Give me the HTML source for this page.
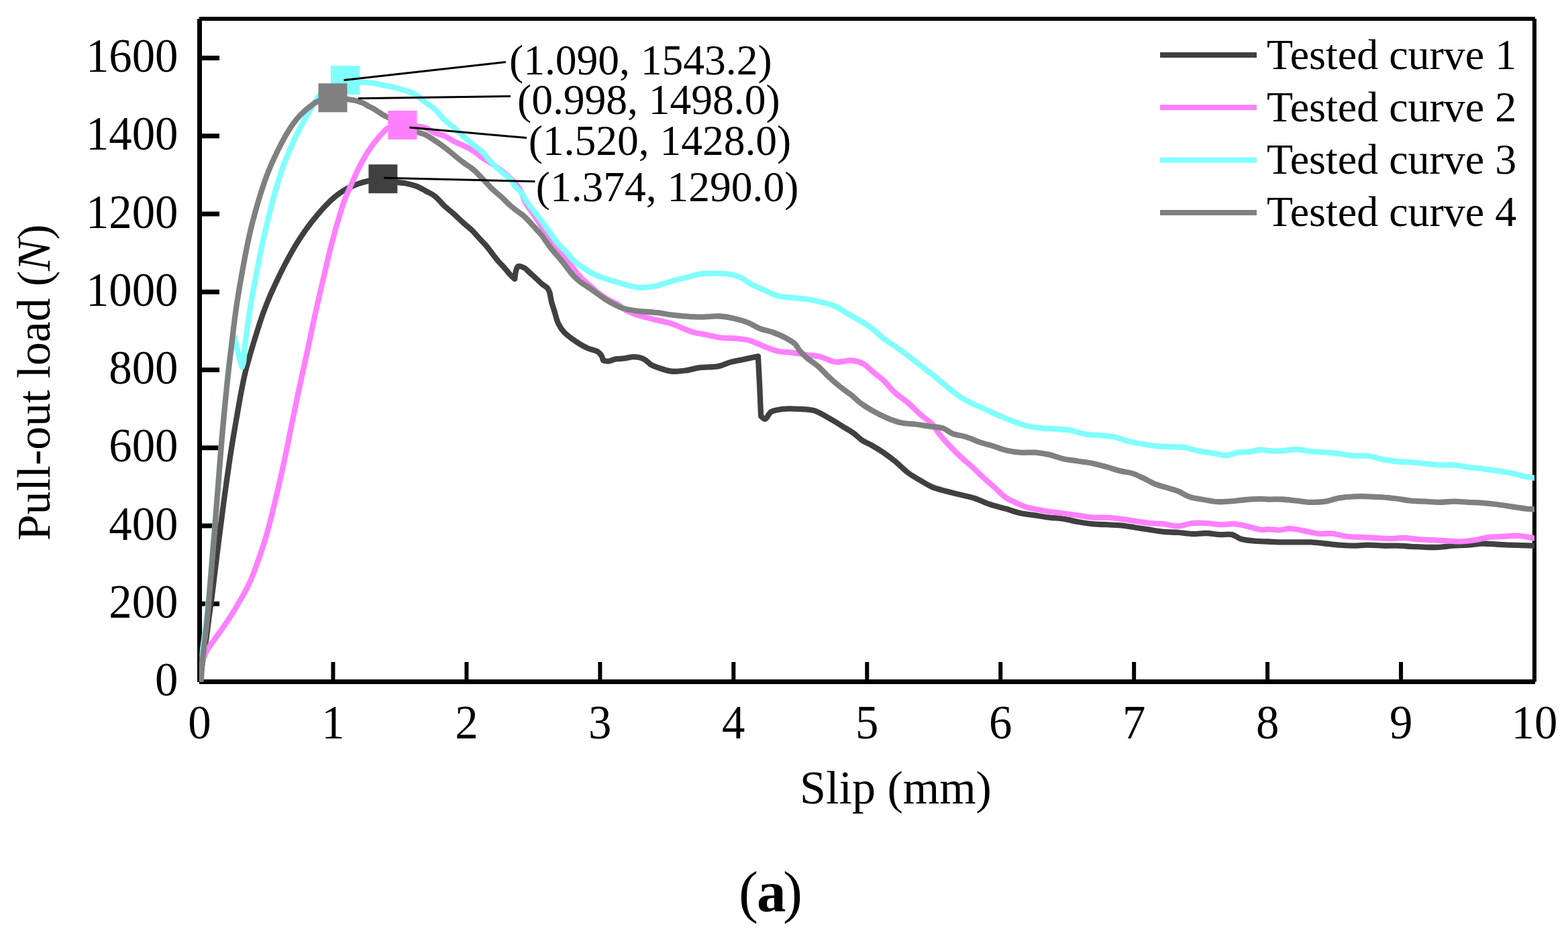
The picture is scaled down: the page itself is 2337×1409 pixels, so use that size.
<!DOCTYPE html>
<html><head><meta charset="utf-8"><title>Pull-out load vs slip</title>
<style>html,body{margin:0;padding:0;background:#fff;overflow:hidden}svg{display:block}text{font-family:'Liberation Serif',serif;fill:#000}</style></head>
<body>
<svg width="2337" height="1409" viewBox="0 0 2337 1409">
<rect width="2337" height="1409" fill="#fff"/>
<defs><clipPath id="pa"><rect x="297.5" y="28" width="1989.5" height="988.5"/></clipPath></defs>
<path d="M301 1016.50H327 M301 900.25H327 M301 784.00H327 M301 667.75H327 M301 551.50H327 M301 435.25H327 M301 319.00H327 M301 202.75H327 M301 86.50H327" stroke="#000" stroke-width="7" fill="none"/>
<path d="M297.50 1013V987 M496.45 1013V987 M695.40 1013V987 M894.35 1013V987 M1093.30 1013V987 M1292.25 1013V987 M1491.20 1013V987 M1690.15 1013V987 M1889.10 1013V987 M2088.05 1013V987 M2287.00 1013V987" stroke="#000" stroke-width="6" fill="none"/>
<path d="M297 1016.5H2288" stroke="#000" stroke-width="7" fill="none"/>
<path d="M297.5 1017V28" stroke="#000" stroke-width="7" fill="none"/>
<path d="M297 28H2288" stroke="#000" stroke-width="6" fill="none"/>
<path d="M2287 28V1016.5" stroke="#000" stroke-width="6" fill="none"/>
<g clip-path="url(#pa)">
<path d="M297.5 1016.5C298.0 1013.3 298.4 1010.3 298.9 1006.9C299.4 1003.2 300.0 999.2 300.6 995.2C301.2 990.8 302.0 986.2 302.7 981.7C303.4 977.1 304.2 972.4 305.0 967.8C305.7 963.1 306.5 958.5 307.2 953.9C307.8 949.5 308.4 945.2 309.0 940.9C309.5 936.7 309.9 932.9 310.5 928.7C311.0 924.2 311.6 919.9 312.3 914.9C313.1 909.0 314.1 902.4 315.0 895.6C316.0 887.9 317.1 879.4 318.1 871.0C319.2 862.4 320.2 853.4 321.3 844.5C322.4 835.2 323.6 825.8 324.8 816.2C326.0 806.3 327.4 795.9 328.7 785.6C330.0 775.1 331.4 764.3 332.8 753.7C334.2 743.2 335.6 732.6 337.1 722.3C338.4 712.5 339.8 702.7 341.2 693.3C342.5 684.3 343.8 675.7 345.2 667.1C346.5 658.8 347.9 650.7 349.3 642.5C350.7 634.2 352.1 625.8 353.6 617.5C355.1 609.0 356.6 600.1 358.1 591.8C359.6 583.9 361.1 575.9 362.6 568.6C364.0 562.1 365.3 556.2 366.8 550.3C368.2 544.6 369.7 539.6 371.3 533.9C373.0 527.8 374.9 521.4 376.9 514.6C379.2 507.1 381.7 498.8 384.3 490.7C386.9 482.4 389.7 473.6 392.8 465.3C395.8 457.1 398.9 449.2 402.3 441.3C405.8 433.2 409.5 425.3 413.4 417.1C417.5 408.6 421.8 399.8 426.3 391.2C430.9 382.5 435.8 373.6 440.8 365.3C445.7 357.3 450.9 349.5 456.1 342.1C461.1 335.2 466.3 328.6 471.4 322.5C476.1 316.7 480.8 311.2 485.6 306.3C489.9 301.8 494.2 297.6 498.5 294.0C502.4 290.6 506.4 287.8 510.4 285.2C514.3 282.8 518.2 280.7 522.2 278.9C526.2 277.0 530.3 275.4 534.4 273.9C538.4 272.6 542.4 271.4 546.4 270.4C550.4 269.4 554.3 268.7 558.3 268.0C562.3 267.3 566.5 266.4 570.5 266.4C574.4 266.4 578.3 267.1 582.0 268.0C585.6 268.9 588.5 270.7 592.3 271.6C596.6 272.7 601.8 272.7 606.5 273.7C611.2 274.7 615.8 275.8 620.3 277.5C625.0 279.3 629.6 282.0 634.2 284.5C638.9 287.1 643.9 289.2 648.4 292.7C653.4 296.6 657.8 302.8 662.6 307.3C667.2 311.6 672.1 315.1 676.8 319.3C681.6 323.6 686.4 328.5 691.0 332.6C695.1 336.3 699.0 339.2 702.8 342.8C706.6 346.5 710.2 350.8 713.8 354.7C717.3 358.5 720.8 362.0 724.1 365.8C727.4 369.6 730.3 373.7 733.4 377.7C736.5 381.7 739.5 385.8 742.8 389.6C746.1 393.4 749.9 397.1 753.0 400.7C755.8 403.9 758.2 407.3 760.7 410.0C762.9 412.3 765.0 414.0 767.1 416.0C767.7 412.3 767.9 408.2 768.8 404.9C769.6 402.1 770.2 398.4 771.8 397.3C772.9 396.5 774.5 397.0 776.0 397.3C777.9 397.7 780.0 398.6 782.0 399.8C784.3 401.2 786.3 403.6 788.8 405.8C791.9 408.6 795.6 412.1 799.0 415.2C802.4 418.3 806.1 421.9 809.2 424.5C811.6 426.5 814.3 427.5 816.0 429.6C817.6 431.5 818.3 434.1 819.4 436.4C820.3 440.9 820.8 445.4 822.0 450.0C823.2 455.0 825.1 460.0 826.7 465.2C828.4 470.7 829.6 477.1 832.0 482.2C834.3 486.9 837.0 491.2 840.5 495.0C844.1 499.0 848.9 502.4 853.3 505.6C857.5 508.7 862.0 511.7 866.1 514.1C869.7 516.2 872.8 517.8 876.7 519.5C881.2 521.4 888.1 522.4 891.6 524.8C894.1 526.6 895.6 529.0 896.9 531.2C898.0 533.2 898.4 535.4 899.1 537.5C901.6 537.9 903.8 538.8 906.5 538.6C909.8 538.4 913.4 536.1 917.2 535.4C921.2 534.7 925.5 534.9 929.9 534.4C934.7 533.9 939.8 532.0 944.8 532.2C949.8 532.4 955.3 533.3 959.7 535.4C963.8 537.3 966.7 541.7 970.4 543.9C973.8 545.9 976.9 546.8 981.0 548.2C986.4 550.0 993.4 552.8 1000.0 553.5C1006.8 554.3 1014.2 553.4 1021.3 552.5C1028.4 551.6 1035.0 549.3 1042.6 548.2C1051.2 547.0 1062.0 547.8 1070.3 546.1C1077.4 544.7 1082.8 541.5 1089.4 539.7C1096.3 537.9 1103.8 536.9 1110.7 535.4C1117.3 534.0 1123.5 532.6 1129.9 531.2C1130.6 544.7 1131.3 557.5 1132.0 571.6C1132.7 587.1 1133.4 604.3 1134.1 620.6C1136.2 622.0 1138.4 625.1 1140.5 624.8C1143.3 624.4 1145.2 616.7 1149.0 614.2C1153.4 611.4 1159.8 610.7 1166.1 609.9C1173.7 609.0 1183.5 609.5 1191.6 609.9C1199.0 610.3 1206.0 610.1 1212.9 612.1C1220.2 614.2 1227.2 618.8 1234.2 622.7C1241.4 626.6 1248.8 631.4 1255.5 635.5C1261.5 639.2 1267.4 642.4 1272.5 646.1C1277.2 649.5 1280.7 653.7 1285.3 656.8C1289.9 659.8 1295.0 661.5 1300.0 664.4C1305.5 667.5 1311.4 671.2 1317.0 675.0C1322.8 679.0 1328.3 683.1 1334.1 687.8C1340.4 692.9 1346.8 700.0 1353.2 704.8C1358.9 709.1 1364.4 712.0 1370.3 715.5C1376.4 719.1 1382.7 723.3 1389.4 726.1C1396.2 729.0 1403.6 730.5 1410.7 732.5C1417.8 734.4 1424.9 736.0 1432.0 737.8C1439.1 739.6 1446.3 740.9 1453.3 743.2C1460.5 745.5 1467.1 749.2 1474.6 751.7C1482.6 754.4 1491.9 756.5 1500.0 758.8C1507.4 761.0 1514.1 763.6 1521.3 765.2C1528.3 766.8 1535.5 767.3 1542.6 768.4C1549.7 769.5 1556.8 770.7 1563.9 771.6C1571.0 772.5 1578.1 772.6 1585.2 773.7C1592.3 774.8 1599.3 776.7 1606.4 778.0C1613.5 779.2 1620.6 780.5 1627.7 781.2C1634.8 781.9 1641.9 781.9 1649.0 782.2C1656.1 782.6 1663.2 782.6 1670.3 783.3C1677.4 784.0 1684.5 785.4 1691.6 786.5C1698.7 787.6 1705.8 788.6 1712.9 789.7C1720.0 790.8 1727.1 792.2 1734.2 792.9C1741.3 793.6 1748.4 793.4 1755.5 793.9C1762.6 794.4 1769.6 795.9 1776.7 796.1C1783.8 796.3 1790.9 794.8 1798.0 795.0C1805.1 795.2 1812.6 796.8 1819.3 797.1C1825.3 797.4 1831.2 795.9 1836.3 797.1C1841.0 798.2 1844.2 801.9 1849.1 803.5C1855.2 805.4 1863.4 806.0 1870.4 806.7C1877.1 807.3 1883.3 807.2 1890.0 807.5C1897.0 807.8 1904.2 808.3 1911.3 808.4C1918.4 808.5 1925.5 808.4 1932.6 808.4C1939.7 808.4 1946.8 808.1 1953.9 808.4C1961.0 808.7 1968.1 809.8 1975.2 810.5C1982.3 811.2 1989.3 812.2 1996.4 812.7C2003.5 813.2 2010.6 813.7 2017.7 813.7C2024.8 813.7 2031.9 812.7 2039.0 812.7C2046.1 812.7 2053.2 813.5 2060.3 813.7C2067.4 813.9 2074.5 813.5 2081.6 813.7C2088.7 813.9 2095.8 814.4 2102.9 814.8C2110.0 815.1 2117.1 815.6 2124.2 815.8C2131.3 816.0 2138.4 816.1 2145.5 815.8C2152.6 815.5 2159.6 814.2 2166.7 813.7C2173.8 813.2 2180.9 813.2 2188.0 812.7C2195.1 812.2 2202.2 810.7 2209.3 810.5C2216.4 810.3 2223.5 811.2 2230.6 811.6C2237.7 812.0 2243.8 812.4 2251.9 812.7C2262.8 813.1 2277.3 813.4 2290.0 813.7" fill="none" stroke="#404040" stroke-width="8.3" stroke-linejoin="round" stroke-linecap="butt"/>
<path d="M297.5 1016.5C298.1 1011.6 298.6 1006.5 299.2 1001.8C299.9 997.5 300.5 993.2 301.4 989.2C302.2 985.8 303.0 982.5 304.1 979.5C305.1 976.6 306.3 974.1 307.7 971.4C309.2 968.5 311.0 965.8 313.1 962.7C315.5 959.0 318.5 955.1 321.4 951.0C324.8 946.4 328.5 941.4 332.1 936.2C335.9 930.8 339.8 924.9 343.5 919.1C347.2 913.3 350.8 907.2 354.3 901.4C357.6 895.8 360.9 890.2 363.9 884.8C366.6 879.7 369.2 874.8 371.5 869.8C373.8 865.0 375.7 860.2 377.6 855.5C379.4 850.9 380.9 846.3 382.6 841.7C384.2 837.3 385.8 833.1 387.4 828.4C389.1 823.3 390.9 818.1 392.8 812.3C394.9 805.5 397.1 797.9 399.2 790.3C401.4 782.3 403.6 773.6 405.7 765.3C407.7 757.2 409.6 749.3 411.5 741.3C413.4 733.3 415.2 725.5 417.0 717.4C418.9 709.2 420.8 700.8 422.6 692.4C424.4 684.0 426.2 675.5 427.9 667.1C429.6 658.8 431.2 650.7 432.8 642.5C434.5 634.2 436.1 625.9 437.9 617.5C439.7 608.8 441.5 599.9 443.4 591.2C445.2 582.5 447.1 573.8 448.9 565.3C450.7 557.1 452.4 549.3 454.2 541.3C455.9 533.1 457.6 525.2 459.5 516.7C461.4 507.5 463.4 497.8 465.5 488.0C467.8 477.4 470.2 466.2 472.7 455.3C475.1 444.3 477.8 433.1 480.3 422.4C482.7 412.0 485.0 401.8 487.3 392.0C489.5 382.8 491.6 373.9 493.8 365.3C495.9 357.3 498.0 349.5 500.0 342.1C502.0 335.3 503.9 328.7 505.8 322.5C507.5 316.9 509.1 311.4 510.7 306.5C512.1 302.3 513.5 298.4 514.9 294.6C516.3 291.2 517.7 288.3 519.1 284.9C520.7 281.4 522.3 277.9 524.0 274.1C525.8 269.9 527.7 265.4 529.8 260.9C531.9 256.3 534.1 251.5 536.5 246.8C539.0 242.1 541.6 237.4 544.3 232.8C547.0 228.3 549.9 223.9 552.8 219.7C555.6 215.7 558.5 211.8 561.5 208.2C564.2 204.9 567.0 201.7 569.9 198.8C572.6 196.0 574.3 193.0 578.0 191.0C583.2 188.2 592.2 186.8 599.4 186.3C606.6 185.8 615.1 187.3 621.4 188.2C626.3 188.9 629.9 189.2 634.2 190.7C638.9 192.4 643.6 196.5 648.4 198.5C653.0 200.4 658.0 200.7 662.6 202.7C667.5 204.8 672.0 208.4 676.8 210.9C681.5 213.3 686.4 215.1 691.0 217.3C695.5 219.5 699.8 221.4 704.2 224.1C709.0 227.1 713.6 231.4 718.4 234.8C723.1 238.1 727.9 240.8 732.6 244.0C737.4 247.2 742.2 250.3 746.8 254.0C751.6 257.8 756.4 261.9 761.0 266.5C765.9 271.5 771.5 277.0 775.2 283.0C778.7 288.7 779.4 295.2 782.7 301.3C786.4 308.2 792.3 315.0 797.0 322.0C801.8 329.2 807.5 338.9 811.1 343.9C813.1 346.6 813.9 347.4 816.0 350.0C819.7 354.7 825.9 363.3 831.0 369.9C836.1 376.5 841.7 383.3 846.7 389.7C851.3 395.7 855.8 402.1 860.0 407.1C863.5 411.2 866.6 414.7 870.0 418.0C873.2 421.1 876.7 423.6 880.0 426.5C883.3 429.4 886.4 432.6 889.8 435.4C893.2 438.2 897.1 440.9 900.5 443.1C903.5 445.0 905.9 446.6 909.0 448.2C912.4 450.0 916.6 451.4 920.0 453.5C923.4 455.5 926.1 458.4 929.4 460.5C932.7 462.6 936.4 464.4 940.0 466.0C943.5 467.6 947.2 468.9 950.7 470.0C953.9 471.0 956.4 471.6 960.0 472.5C964.8 473.8 970.7 475.4 976.8 476.9C983.9 478.6 993.8 480.3 1000.0 482.2C1004.3 483.5 1006.5 484.8 1010.6 486.5C1016.5 488.9 1024.7 492.9 1031.9 495.0C1038.9 497.1 1046.1 497.8 1053.2 499.2C1060.3 500.6 1067.4 502.6 1074.5 503.5C1081.6 504.4 1088.7 503.8 1095.8 504.5C1102.9 505.2 1110.1 505.8 1117.1 507.7C1124.3 509.7 1131.3 513.6 1138.4 516.3C1145.5 519.0 1152.5 522.1 1159.7 523.7C1166.7 525.2 1173.9 524.9 1181.0 525.8C1188.1 526.7 1195.2 527.9 1202.3 529.0C1209.4 530.1 1216.5 530.5 1223.5 532.2C1230.7 534.0 1237.3 538.7 1244.8 539.7C1252.8 540.7 1262.8 536.7 1270.4 537.5C1276.7 538.2 1282.4 540.1 1287.4 542.9C1292.2 545.6 1295.5 549.9 1300.0 553.7C1305.2 558.1 1311.5 562.4 1317.0 567.5C1322.9 573.0 1328.0 580.1 1334.1 585.6C1340.1 591.1 1346.9 595.1 1353.2 600.5C1359.7 606.1 1366.1 613.1 1372.4 618.6C1378.1 623.6 1384.7 627.4 1389.4 632.5C1393.7 637.1 1396.1 642.4 1400.1 647.4C1404.5 653.0 1409.8 658.8 1415.0 664.4C1420.4 670.2 1426.2 676.0 1432.0 681.4C1437.6 686.6 1443.4 691.2 1449.0 696.3C1454.7 701.5 1460.4 707.3 1466.1 712.5C1471.7 717.6 1477.4 722.5 1483.1 727.5C1488.7 732.5 1494.5 738.8 1500.0 742.5C1504.4 745.5 1508.3 746.9 1512.8 749.0C1517.5 751.2 1522.0 753.7 1527.7 755.5C1535.0 757.8 1544.2 759.4 1553.2 761.0C1563.2 762.8 1575.6 764.2 1585.2 765.5C1593.0 766.6 1599.3 767.4 1606.4 768.4C1613.5 769.4 1620.6 771.1 1627.7 771.6C1634.8 772.1 1641.9 771.3 1649.0 771.6C1656.1 771.9 1663.2 772.8 1670.3 773.7C1677.4 774.6 1684.5 775.8 1691.6 776.9C1698.7 778.0 1705.8 779.4 1712.9 780.1C1720.0 780.8 1727.1 780.5 1734.2 781.2C1741.3 781.9 1748.4 784.6 1755.5 784.4C1762.6 784.2 1769.6 780.8 1776.7 780.1C1783.8 779.4 1790.9 779.8 1798.0 780.1C1805.1 780.4 1812.4 782.0 1819.3 782.2C1825.9 782.4 1832.1 780.8 1838.5 781.2C1844.9 781.6 1851.1 783.0 1857.6 784.4C1864.5 785.8 1872.9 789.1 1878.9 789.7C1883.2 790.1 1885.9 789.2 1890.0 789.2C1895.1 789.2 1901.5 790.5 1907.0 790.3C1912.1 790.1 1916.5 788.2 1921.9 788.2C1928.4 788.2 1936.1 790.2 1943.2 791.4C1950.3 792.6 1957.4 794.9 1964.5 795.6C1971.6 796.3 1978.7 794.9 1985.8 795.6C1992.9 796.3 2000.0 799.0 2007.1 799.9C2014.2 800.8 2021.3 800.6 2028.4 800.9C2035.5 801.3 2042.6 801.6 2049.7 802.0C2056.8 802.4 2063.8 803.1 2070.9 803.1C2078.0 803.1 2085.1 801.8 2092.2 802.0C2099.3 802.2 2106.4 803.6 2113.5 804.1C2120.6 804.6 2127.7 804.8 2134.8 805.2C2141.9 805.6 2149.0 805.9 2156.1 806.3C2163.2 806.6 2170.3 807.5 2177.4 807.3C2184.5 807.1 2191.6 806.3 2198.7 805.2C2205.8 804.1 2212.9 801.8 2220.0 800.9C2227.0 800.0 2234.1 800.2 2241.2 799.9C2248.3 799.5 2255.0 798.4 2262.5 798.8C2271.1 799.2 2280.8 801.7 2290.0 803.1" fill="none" stroke="#ff80ff" stroke-width="8.3" stroke-linejoin="round" stroke-linecap="butt"/>
<path d="M297.5 1016.5C298.1 1009.5 298.6 1002.5 299.2 995.6C299.8 988.8 300.5 982.0 301.2 975.4C301.9 969.0 302.7 962.8 303.5 956.6C304.3 950.5 305.1 944.6 305.9 938.4C306.7 932.1 307.6 925.7 308.3 919.0C309.1 911.8 309.8 904.2 310.5 896.4C311.3 888.2 312.0 879.6 312.7 871.0C313.5 862.3 314.2 853.4 315.0 844.5C315.8 835.2 316.6 825.8 317.4 816.2C318.3 806.3 319.1 795.9 320.0 785.6C320.8 775.1 321.7 764.3 322.6 753.7C323.4 743.2 324.3 732.6 325.1 722.3C325.9 712.5 326.6 702.7 327.4 693.3C328.1 684.3 328.8 675.7 329.5 667.1C330.2 658.8 330.9 650.7 331.6 642.5C332.3 634.2 333.1 625.9 333.9 617.5C334.7 608.8 335.5 599.9 336.4 591.2C337.3 582.5 338.1 573.7 339.0 565.3C339.9 557.4 340.7 549.6 341.6 542.5C342.5 536.0 343.3 529.9 344.1 524.2C344.9 519.2 345.5 514.0 346.5 510.0C347.2 506.9 348.2 504.7 349.0 502.0C350.5 508.0 352.0 514.3 353.4 520.0C354.7 525.1 355.8 529.7 357.0 534.4C358.2 538.8 359.4 543.1 360.6 547.5C361.4 545.0 362.4 543.1 363.0 540.0C364.0 535.0 363.8 527.2 364.5 520.0C365.4 511.4 366.9 500.9 368.2 491.7C369.4 482.7 370.6 473.9 371.9 465.3C373.2 457.1 374.5 449.3 375.9 441.3C377.4 433.2 378.9 425.3 380.5 417.1C382.1 408.7 383.7 399.8 385.4 391.2C387.1 382.5 388.7 373.8 390.5 365.3C392.3 357.1 394.1 349.3 396.0 341.3C397.9 333.2 399.9 325.3 401.9 317.1C404.1 308.6 406.3 299.8 408.7 291.2C411.1 282.5 413.5 273.7 416.2 265.3C418.7 257.3 421.4 249.5 424.2 242.2C426.8 235.3 429.6 228.7 432.3 222.5C434.8 216.7 437.3 211.2 439.9 205.8C442.3 200.7 444.7 195.9 447.2 191.0C449.7 186.2 452.3 181.5 454.9 176.8C457.5 172.1 460.2 167.5 462.9 162.8C465.6 158.2 468.1 153.2 471.0 149.0C473.8 145.0 476.3 141.3 480.0 138.0C484.1 134.2 489.5 130.8 495.0 128.0C500.8 125.0 507.3 121.9 514.0 121.0C521.0 120.0 531.0 122.4 536.2 122.7C539.0 122.8 540.0 122.8 542.6 122.9C546.4 123.1 552.1 123.1 556.8 123.8C561.6 124.5 566.3 126.0 571.0 127.0C575.7 128.0 580.5 128.7 585.2 129.8C590.0 130.9 594.7 132.3 599.4 133.7C604.1 135.1 609.9 136.4 613.6 138.0C616.2 139.1 617.5 140.0 620.0 141.7C623.9 144.3 629.5 149.1 634.2 152.7C638.9 156.3 643.9 159.3 648.4 163.4C653.4 167.9 657.7 174.3 662.6 179.0C667.2 183.4 672.1 186.6 676.8 190.7C681.6 194.9 686.3 199.7 691.0 203.8C695.4 207.7 699.7 211.2 704.2 214.9C708.8 218.7 713.9 221.9 718.4 226.3C723.4 231.1 727.7 237.6 732.6 242.6C737.2 247.3 742.1 251.2 746.8 255.4C751.5 259.6 757.3 263.6 761.0 267.8C764.0 271.2 765.5 275.0 768.0 278.0C770.3 280.7 772.8 282.0 775.2 285.0C778.6 289.2 781.5 295.6 785.5 301.3C790.2 308.0 796.5 315.5 801.9 322.6C807.2 329.7 812.2 336.8 817.5 343.9C822.8 351.0 828.1 358.9 833.5 365.2C838.3 370.8 845.0 376.3 848.0 380.0C849.6 382.0 849.6 383.1 851.3 384.9C854.3 388.2 860.7 393.1 865.5 396.6C870.1 400.0 874.9 403.1 879.7 405.8C884.4 408.4 889.1 410.7 893.9 412.6C898.6 414.5 903.4 415.7 908.1 417.2C912.8 418.7 917.6 420.1 922.3 421.5C927.0 422.9 931.7 424.5 936.5 425.7C941.2 426.9 946.0 428.2 950.7 428.6C955.4 429.0 960.1 428.6 964.8 428.2C969.5 427.8 973.9 427.3 979.0 426.1C985.4 424.6 992.9 421.4 1000.0 419.4C1007.0 417.4 1014.2 415.9 1021.3 414.1C1028.4 412.3 1035.4 409.8 1042.6 408.7C1049.6 407.7 1056.8 407.7 1063.9 407.7C1071.0 407.7 1078.5 407.7 1085.2 408.7C1091.2 409.6 1096.7 410.7 1102.2 413.0C1108.1 415.5 1113.2 420.4 1119.2 423.6C1125.3 426.8 1132.0 429.3 1138.4 432.2C1144.8 435.0 1150.7 438.8 1157.5 440.7C1164.8 442.8 1173.4 443.0 1181.0 443.9C1188.3 444.8 1195.2 444.9 1202.3 446.0C1209.4 447.1 1216.5 448.5 1223.5 450.3C1230.6 452.1 1237.9 453.6 1244.8 456.6C1252.1 459.8 1259.2 465.4 1266.1 469.4C1272.6 473.2 1279.4 476.5 1285.3 480.1C1290.6 483.4 1295.0 486.2 1300.0 490.0C1305.6 494.3 1311.2 500.2 1317.0 504.7C1322.6 509.0 1328.3 512.3 1334.1 516.4C1340.3 520.8 1346.9 525.5 1353.2 530.3C1359.6 535.1 1366.0 540.2 1372.4 545.2C1378.8 550.2 1385.2 555.0 1391.5 560.1C1397.9 565.3 1404.3 570.8 1410.7 576.0C1417.1 581.1 1423.3 586.6 1429.9 590.9C1436.1 595.0 1442.4 598.3 1449.0 601.6C1455.8 605.0 1463.2 608.0 1470.3 611.2C1477.4 614.4 1484.5 617.7 1491.6 620.7C1498.7 623.7 1506.0 626.8 1512.9 629.3C1519.4 631.6 1525.3 633.8 1531.9 635.3C1538.7 636.9 1546.1 637.8 1553.2 638.5C1560.3 639.2 1567.4 639.1 1574.5 639.6C1581.6 640.1 1588.7 640.5 1595.8 641.7C1602.9 643.0 1610.0 645.8 1617.1 647.1C1624.2 648.3 1631.3 648.5 1638.4 649.2C1645.5 649.9 1652.7 649.9 1659.7 651.3C1666.8 652.7 1673.8 655.9 1680.9 657.7C1688.0 659.5 1695.1 660.7 1702.2 662.0C1709.3 663.2 1716.4 664.5 1723.5 665.2C1730.6 665.9 1737.7 665.9 1744.8 666.2C1751.9 666.6 1759.1 666.3 1766.1 667.3C1773.3 668.4 1780.3 671.2 1787.4 672.6C1794.5 674.0 1801.8 674.7 1808.7 675.8C1815.2 676.8 1821.6 679.2 1827.8 679.0C1833.7 678.8 1839.2 675.6 1844.9 674.7C1850.5 673.8 1856.3 674.4 1861.9 673.7C1867.6 673.0 1873.8 670.6 1878.9 670.5C1883.0 670.4 1885.7 671.9 1890.0 672.2C1895.9 672.7 1904.2 672.6 1911.3 672.2C1918.4 671.8 1925.5 669.8 1932.6 670.0C1939.7 670.2 1946.8 672.5 1953.9 673.2C1961.0 673.9 1968.1 673.8 1975.2 674.3C1982.3 674.8 1989.3 675.5 1996.4 676.4C2003.5 677.3 2010.6 679.1 2017.7 679.6C2024.8 680.1 2032.0 678.7 2039.0 679.6C2046.2 680.5 2053.2 683.5 2060.3 684.9C2067.4 686.3 2074.5 687.4 2081.6 688.1C2088.7 688.8 2095.8 688.7 2102.9 689.2C2110.0 689.7 2117.1 690.6 2124.2 691.3C2131.3 692.0 2138.4 693.1 2145.5 693.4C2152.6 693.7 2159.6 692.9 2166.7 693.4C2173.8 693.9 2180.9 695.7 2188.0 696.6C2195.1 697.5 2202.2 697.9 2209.3 698.8C2216.4 699.7 2223.5 700.9 2230.6 702.0C2237.7 703.1 2244.8 703.8 2251.9 705.2C2259.0 706.6 2266.5 709.2 2273.2 710.5C2279.1 711.7 2284.4 712.2 2290.0 713.0" fill="none" stroke="#80ffff" stroke-width="8.3" stroke-linejoin="round" stroke-linecap="butt"/>
<path d="M299.3 1020.0C299.6 1016.2 299.8 1012.7 300.1 1008.5C300.4 1003.4 300.9 997.4 301.4 991.6C301.9 985.3 302.5 978.5 303.2 972.3C303.8 966.3 304.5 960.7 305.2 955.0C305.8 949.4 306.5 944.1 307.2 938.4C307.9 932.2 308.6 925.9 309.2 919.3C309.9 912.0 310.6 904.3 311.2 896.5C311.9 888.2 312.6 879.6 313.3 871.0C314.0 862.3 314.7 853.4 315.5 844.5C316.2 835.2 317.0 825.8 317.8 816.2C318.7 806.3 319.5 795.9 320.3 785.6C321.1 775.1 322.0 764.3 322.8 753.7C323.6 743.2 324.5 732.6 325.3 722.3C326.0 712.5 326.8 702.7 327.5 693.3C328.2 684.3 328.9 675.7 329.6 667.1C330.3 658.8 331.0 650.7 331.7 642.5C332.4 634.2 333.2 625.9 334.0 617.5C334.8 608.8 335.7 599.9 336.6 591.2C337.4 582.5 338.3 573.8 339.2 565.3C340.1 557.1 341.0 549.3 341.9 541.3C342.8 533.2 343.8 525.3 344.8 517.1C345.8 508.7 346.8 499.8 347.9 491.2C349.0 482.6 350.0 473.8 351.2 465.3C352.3 457.1 353.5 449.3 354.8 441.3C356.1 433.2 357.5 425.3 358.9 417.1C360.4 408.7 362.0 399.8 363.6 391.2C365.2 382.5 366.8 373.8 368.6 365.3C370.3 357.1 372.0 349.3 373.9 341.3C375.8 333.2 377.9 325.3 380.2 317.1C382.5 308.6 385.0 299.8 387.7 291.2C390.4 282.5 393.3 273.6 396.3 265.3C399.3 257.3 402.4 249.5 405.7 242.2C408.7 235.3 411.9 228.7 415.0 222.5C417.9 216.7 420.8 211.2 423.7 205.8C426.6 200.7 429.3 195.9 432.4 191.2C435.4 186.5 438.6 182.0 442.0 177.8C445.3 173.8 449.0 170.0 452.6 166.7C455.8 163.7 459.2 161.0 462.4 158.6C465.4 156.4 467.2 154.4 471.0 152.6C476.9 149.8 487.3 146.2 495.6 145.5C503.9 144.8 514.1 147.4 520.7 148.4C525.0 149.0 527.8 149.4 531.3 150.3C534.9 151.3 538.7 152.6 541.9 154.1C544.8 155.5 547.4 157.3 550.0 158.7C552.3 160.0 554.2 160.6 556.8 162.1C560.7 164.3 567.0 169.0 571.0 171.3C573.7 172.9 575.0 173.4 578.0 174.9C583.2 177.6 592.2 182.4 599.4 186.0C606.7 189.6 615.0 194.1 621.4 196.7C626.2 198.7 629.9 199.0 634.2 201.0C638.9 203.2 643.7 206.7 648.4 209.8C653.2 213.0 657.2 215.7 662.6 219.8C670.3 225.6 682.3 236.1 690.0 241.9C695.4 246.0 699.6 248.0 704.2 251.8C709.1 255.8 713.6 260.8 718.4 265.6C723.4 270.7 728.5 276.8 733.6 281.7C738.3 286.2 743.2 289.9 747.7 294.0C752.0 298.0 756.0 302.5 760.0 306.0C763.4 309.0 766.5 311.3 770.0 314.0C773.6 316.8 777.2 318.9 781.3 322.6C787.2 327.9 796.6 338.9 801.2 343.9C803.6 346.5 804.5 347.3 806.7 350.0C810.5 354.7 816.0 363.4 821.1 369.9C826.3 376.6 832.4 383.0 837.8 389.7C843.1 396.3 848.5 404.2 853.4 409.6C857.2 413.8 860.6 417.0 864.3 420.0C867.7 422.7 871.1 424.4 874.9 427.0C879.5 430.1 885.0 433.9 889.8 437.3C894.2 440.5 898.3 443.8 902.6 446.6C906.8 449.3 911.1 451.7 915.4 453.9C919.5 456.0 922.9 457.9 927.7 459.4C933.7 461.3 943.4 462.8 949.0 463.6C952.6 464.1 954.5 464.0 957.8 464.3C961.9 464.6 967.8 465.2 971.9 465.5C975.0 465.8 976.7 465.8 980.0 466.2C985.2 466.8 993.2 468.5 1000.0 469.4C1007.0 470.3 1014.2 471.0 1021.3 471.5C1028.4 472.0 1034.9 472.5 1042.6 472.6C1051.7 472.7 1063.3 471.0 1072.4 471.5C1080.1 471.9 1086.7 473.1 1093.7 474.7C1100.9 476.3 1108.4 478.5 1115.0 481.1C1121.1 483.5 1125.9 487.2 1132.0 489.6C1138.6 492.2 1146.7 493.6 1153.3 496.0C1159.4 498.2 1164.9 500.6 1170.3 503.5C1175.5 506.3 1181.5 509.5 1185.2 513.1C1188.2 516.0 1189.0 519.5 1191.6 522.6C1194.6 526.2 1198.2 529.7 1202.3 533.3C1207.2 537.5 1214.0 541.5 1219.3 546.1C1224.6 550.7 1229.0 556.1 1234.2 561.0C1239.6 566.1 1245.4 571.2 1251.2 575.9C1256.8 580.4 1262.9 584.3 1268.3 588.6C1273.5 592.8 1277.9 597.5 1283.2 601.4C1288.5 605.4 1294.0 608.8 1300.0 612.2C1306.6 616.0 1314.1 619.9 1321.3 622.9C1328.3 625.9 1335.4 628.7 1342.6 630.3C1349.6 631.9 1356.8 631.6 1363.9 632.5C1371.0 633.4 1378.1 634.6 1385.2 635.6C1392.3 636.7 1400.5 636.7 1406.5 638.8C1411.5 640.6 1414.3 644.3 1419.2 646.3C1425.2 648.8 1433.7 649.4 1440.5 651.6C1447.1 653.7 1453.1 656.8 1459.7 659.1C1466.6 661.5 1474.1 663.3 1481.0 665.4C1487.5 667.4 1493.4 670.0 1500.0 671.5C1506.8 673.1 1514.2 674.2 1521.3 674.7C1528.4 675.2 1535.5 674.2 1542.6 674.7C1549.7 675.2 1556.9 676.3 1563.9 677.9C1571.1 679.5 1578.1 682.7 1585.2 684.3C1592.2 685.9 1599.3 686.4 1606.4 687.5C1613.5 688.6 1620.6 689.3 1627.7 690.7C1634.8 692.1 1641.9 694.1 1649.0 696.0C1656.1 698.0 1663.6 700.8 1670.3 702.4C1676.2 703.8 1681.7 703.9 1687.3 705.6C1693.1 707.4 1698.7 710.4 1704.4 713.0C1710.1 715.7 1715.6 719.3 1721.4 721.6C1727.0 723.9 1732.7 725.1 1738.4 726.9C1744.1 728.7 1749.9 729.9 1755.5 732.2C1761.3 734.5 1766.4 738.6 1772.5 740.7C1779.1 743.0 1786.7 743.7 1793.8 745.0C1800.9 746.2 1808.0 747.9 1815.1 748.2C1822.2 748.5 1829.2 747.6 1836.3 747.1C1843.4 746.6 1850.5 745.5 1857.6 745.0C1864.7 744.5 1872.9 743.9 1878.9 743.9C1883.2 743.9 1885.7 744.4 1890.0 744.5C1896.0 744.7 1904.2 744.1 1911.3 744.5C1918.4 744.9 1925.5 746.0 1932.6 746.7C1939.7 747.4 1946.8 748.6 1953.9 748.8C1961.0 749.0 1968.2 748.8 1975.2 747.7C1982.3 746.6 1989.3 743.6 1996.4 742.4C2003.4 741.2 2010.6 740.6 2017.7 740.3C2024.8 740.0 2031.9 740.1 2039.0 740.3C2046.1 740.5 2053.2 740.8 2060.3 741.3C2067.4 741.8 2074.5 742.6 2081.6 743.5C2088.7 744.4 2095.8 746.0 2102.9 746.7C2110.0 747.4 2117.1 747.4 2124.2 747.7C2131.3 748.1 2138.4 748.8 2145.5 748.8C2152.6 748.8 2159.6 747.7 2166.7 747.7C2173.8 747.7 2180.9 748.4 2188.0 748.8C2195.1 749.2 2202.2 749.4 2209.3 749.9C2216.4 750.4 2223.5 751.1 2230.6 752.0C2237.7 752.9 2244.8 754.1 2251.9 755.2C2259.0 756.3 2266.5 757.7 2273.2 758.4C2279.1 759.1 2284.4 759.2 2290.0 759.6" fill="none" stroke="#808080" stroke-width="8.3" stroke-linejoin="round" stroke-linecap="butt"/>
</g>
<rect x="549.36" y="245.19" width="43" height="43" fill="#404040"/>
<rect x="578.40" y="164.97" width="43" height="43" fill="#ff80ff"/>
<rect x="492.86" y="98.01" width="43" height="43" fill="#80ffff"/>
<rect x="474.55" y="124.29" width="43" height="43" fill="#808080"/>
<path d="M512.5 119.5L753.8 92.6M534 146.7L761 143.6M610.3 190L784.9 205.6M572 265.2L797.3 270.6" stroke="#000" stroke-width="3" fill="none"/>
<text x="759" y="110.6" font-size="63.5">(1.090, 1543.2)</text>
<text x="771" y="169.6" font-size="63.5">(0.998, 1498.0)</text>
<text x="787.7" y="230.9" font-size="63.5">(1.520, 1428.0)</text>
<text x="798.8" y="300" font-size="63.5">(1.374, 1290.0)</text>
<text transform="translate(265.5 1037.0) scale(0.983 1.025)" font-size="70" text-anchor="end">0</text>
<text transform="translate(265.5 920.8) scale(0.983 1.025)" font-size="70" text-anchor="end">200</text>
<text transform="translate(265.5 804.5) scale(0.983 1.025)" font-size="70" text-anchor="end">400</text>
<text transform="translate(265.5 688.2) scale(0.983 1.025)" font-size="70" text-anchor="end">600</text>
<text transform="translate(265.5 572.0) scale(0.983 1.025)" font-size="70" text-anchor="end">800</text>
<text transform="translate(265.5 455.8) scale(0.983 1.025)" font-size="70" text-anchor="end">1000</text>
<text transform="translate(265.5 339.5) scale(0.983 1.025)" font-size="70" text-anchor="end">1200</text>
<text transform="translate(265.5 223.2) scale(0.983 1.025)" font-size="70" text-anchor="end">1400</text>
<text transform="translate(265.5 107.0) scale(0.983 1.025)" font-size="70" text-anchor="end">1600</text>
<text transform="translate(297.5 1101) scale(0.983 1.025)" font-size="70" text-anchor="middle">0</text>
<text transform="translate(496.4 1101) scale(0.983 1.025)" font-size="70" text-anchor="middle">1</text>
<text transform="translate(695.4 1101) scale(0.983 1.025)" font-size="70" text-anchor="middle">2</text>
<text transform="translate(894.3 1101) scale(0.983 1.025)" font-size="70" text-anchor="middle">3</text>
<text transform="translate(1093.3 1101) scale(0.983 1.025)" font-size="70" text-anchor="middle">4</text>
<text transform="translate(1292.2 1101) scale(0.983 1.025)" font-size="70" text-anchor="middle">5</text>
<text transform="translate(1491.2 1101) scale(0.983 1.025)" font-size="70" text-anchor="middle">6</text>
<text transform="translate(1690.1 1101) scale(0.983 1.025)" font-size="70" text-anchor="middle">7</text>
<text transform="translate(1889.1 1101) scale(0.983 1.025)" font-size="70" text-anchor="middle">8</text>
<text transform="translate(2088.1 1101) scale(0.983 1.025)" font-size="70" text-anchor="middle">9</text>
<text transform="translate(2287.0 1101) scale(0.983 1.025)" font-size="70" text-anchor="middle">10</text>
<text x="1335" y="1198" font-size="70" text-anchor="middle">Slip (mm)</text>
<text transform="translate(74 806) rotate(-90)" font-size="69.6">Pull-out load (<tspan font-style="italic">N</tspan>)</text>
<path d="M1729 82.0H1873" stroke="#404040" stroke-width="8" fill="none"/>
<text x="1888" y="103.0" font-size="64">Tested curve 1</text>
<path d="M1729 160.3H1873" stroke="#ff80ff" stroke-width="8" fill="none"/>
<text x="1888" y="181.0" font-size="64">Tested curve 2</text>
<path d="M1729 238.7H1873" stroke="#80ffff" stroke-width="8" fill="none"/>
<text x="1888" y="259.0" font-size="64">Tested curve 3</text>
<path d="M1729 317.0H1873" stroke="#808080" stroke-width="8" fill="none"/>
<text x="1888" y="337.0" font-size="64">Tested curve 4</text>
<text x="1101" y="1358.5" font-size="87">(</text><text x="1128" y="1358.5" font-size="87" font-weight="bold">a</text><text x="1167" y="1358.5" font-size="87">)</text>
</svg>
</body></html>
